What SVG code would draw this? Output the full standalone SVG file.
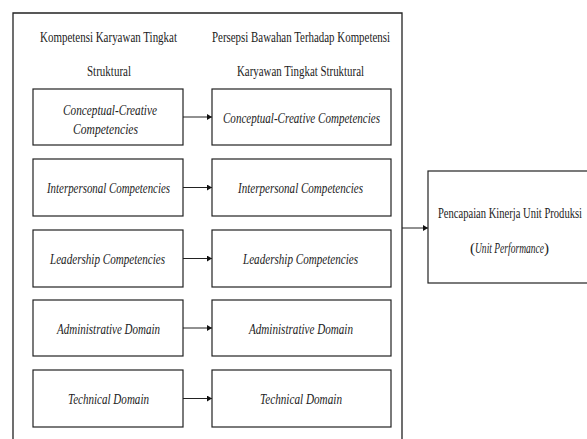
<svg xmlns="http://www.w3.org/2000/svg" width="587" height="439" viewBox="0 0 587 439">
<style>
.bx{fill:#fff;stroke:#222;stroke-width:1.2}
.t{font-family:"Liberation Serif","Times New Roman",serif;font-size:15px;fill:#222;text-anchor:middle}
.i{font-style:italic}
.c{stroke:#222;stroke-width:1;fill:none;marker-end:url(#ah)}
</style>
<defs>
<marker id="ah" markerWidth="6" markerHeight="6" refX="5" refY="3" orient="auto" markerUnits="userSpaceOnUse">
<path d="M0,0 L5,3 L0,6 Z" fill="#111"/>
</marker>
</defs>
<rect width="587" height="439" fill="#fff"/>
<g id="frame">
<path d="M13,439 V13 H402 V439" fill="none" stroke="#222" stroke-width="1.3"/>
<text class="t" x="108.5" y="41.5" textLength="137" lengthAdjust="spacingAndGlyphs">Kompetensi Karyawan Tingkat</text>
<text class="t" x="109" y="75.5" textLength="44" lengthAdjust="spacingAndGlyphs">Struktural</text>
<text class="t" x="301" y="41.5" textLength="178" lengthAdjust="spacingAndGlyphs">Persepsi Bawahan Terhadap Kompetensi</text>
<text class="t" x="300.5" y="75.5" textLength="127" lengthAdjust="spacingAndGlyphs">Karyawan Tingkat Struktural</text>
</g>
<g id="connectors">
<line class="c" x1="183" y1="117" x2="212" y2="117"/>
<line class="c" x1="183" y1="187.5" x2="212" y2="187.5"/>
<line class="c" x1="183" y1="258.5" x2="212" y2="258.5"/>
<line class="c" x1="183" y1="328" x2="212" y2="328"/>
<line class="c" x1="183" y1="398.5" x2="212" y2="398.5"/>
<line class="c" x1="402" y1="228" x2="428" y2="228"/>
</g>
<g id="l1"><rect class="bx" x="33" y="89" width="150" height="56"/>
<text class="t i" x="110" y="114.5" textLength="94" lengthAdjust="spacingAndGlyphs">Conceptual-Creative</text>
<text class="t i" x="105.5" y="133.5" textLength="65" lengthAdjust="spacingAndGlyphs">Competencies</text></g>
<g id="r1"><rect class="bx" x="212" y="89" width="179" height="56"/>
<text class="t i" x="301.5" y="122.5" textLength="157" lengthAdjust="spacingAndGlyphs">Conceptual-Creative Competencies</text></g>
<g id="l2"><rect class="bx" x="33" y="159" width="150" height="57"/>
<text class="t i" x="108.5" y="193" textLength="123" lengthAdjust="spacingAndGlyphs">Interpersonal Competencies</text></g>
<g id="r2"><rect class="bx" x="212" y="159" width="179" height="57"/>
<text class="t i" x="300.5" y="193" textLength="125" lengthAdjust="spacingAndGlyphs">Interpersonal Competencies</text></g>
<g id="l3"><rect class="bx" x="33" y="230" width="150" height="57"/>
<text class="t i" x="107.5" y="264" textLength="115" lengthAdjust="spacingAndGlyphs">Leadership Competencies</text></g>
<g id="r3"><rect class="bx" x="212" y="230" width="179" height="57"/>
<text class="t i" x="300.5" y="264" textLength="115" lengthAdjust="spacingAndGlyphs">Leadership Competencies</text></g>
<g id="l4"><rect class="bx" x="33" y="300" width="150" height="56"/>
<text class="t i" x="108.5" y="333.5" textLength="103" lengthAdjust="spacingAndGlyphs">Administrative Domain</text></g>
<g id="r4"><rect class="bx" x="212" y="300" width="179" height="56"/>
<text class="t i" x="301" y="333.5" textLength="104" lengthAdjust="spacingAndGlyphs">Administrative Domain</text></g>
<g id="l5"><rect class="bx" x="33" y="370" width="150" height="57"/>
<text class="t i" x="108.5" y="404" textLength="81" lengthAdjust="spacingAndGlyphs">Technical Domain</text></g>
<g id="r5"><rect class="bx" x="212" y="370" width="179" height="57"/>
<text class="t i" x="301" y="404" textLength="82" lengthAdjust="spacingAndGlyphs">Technical Domain</text></g>
<g id="perf"><rect class="bx" x="428" y="171" width="170" height="112"/>
<text class="t" x="510" y="218" textLength="144" lengthAdjust="spacingAndGlyphs">Pencapaian Kinerja Unit Produksi</text>
<text class="t" x="470" y="252.5" style="text-anchor:start">(<tspan class="i" textLength="69" lengthAdjust="spacingAndGlyphs">Unit Performance</tspan>)</text></g>
</svg>
